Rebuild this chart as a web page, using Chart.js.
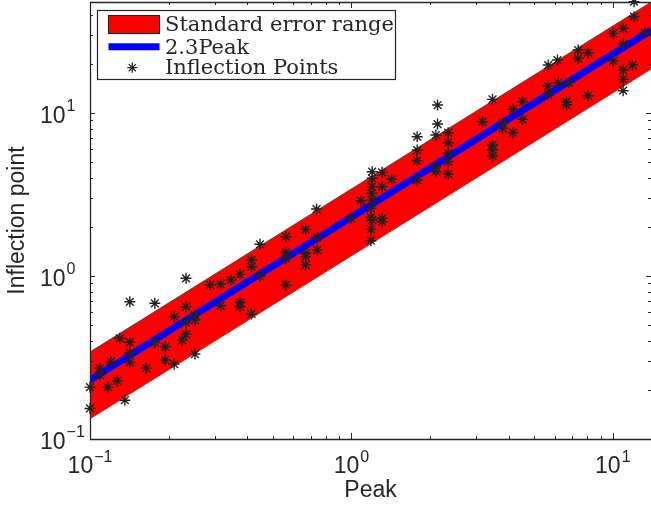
<!DOCTYPE html>
<html><head><meta charset="utf-8">
<script src="https://cdn.jsdelivr.net/npm/chart.js@4.4.1/dist/chart.umd.min.js"></script>
<style>html,body{margin:0;padding:0;background:#fff;overflow:hidden;}#wrap{width:651px;height:509px;}</style>
</head><body><div id="wrap"><canvas id="c" width="651" height="509"></canvas></div>
<script>
// ---- data ----
const peak = [0.142,0.177,0.233,0.210,0.252,0.252,0.233,0.233,0.225,0.130,0.142,0.177,0.194,0.142,0.142,0.120,0.194,0.210,0.252,0.164,0.109,0.109,0.127,0.117,0.100,0.136,0.100,
  0.233,0.447,0.562,0.415,0.415,0.562,0.562,0.447,0.375,0.346,0.316,0.288,0.562,0.316,0.375,0.375,0.415,
  1.201,1.311,1.201,1.424,1.195,1.311,1.195,1.087,1.201,1.187,0.736,0.995,1.187,1.201,1.311,1.311,1.187,1.187,0.668,0.740,0.740,0.668,0.668,0.668,
  2.136,2.136,1.785,2.104,2.345,1.785,1.785,2.345,2.345,2.345,2.104,2.104,2.345,1.785,3.467,3.176,3.786,3.786,4.156,4.515,4.515,4.156,3.467,3.467,3.467,
  12.06,12.06,10.03,10.95,13.26,10.95,10.03,11.89,10.95,10.95,10.95,7.37,7.37,8.04,6.14,5.66,5.66,5.66,6.18,6.81,6.65,6.65,8.04];
const inflection = [0.695,0.680,0.648,0.563,0.576,0.537,0.517,0.439,0.405,0.415,0.392,0.390,0.368,0.338,0.296,0.298,0.305,0.288,0.332,0.272,0.272,0.247,0.227,0.208,0.208,0.173,0.154,
  0.968,1.565,1.742,1.254,1.141,1.398,1.284,1.000,1.024,0.945,0.893,0.881,0.881,0.657,0.690,0.648,0.585,
  4.364,4.327,3.976,3.920,3.531,3.531,3.217,2.897,2.926,2.602,2.576,2.259,2.291,2.205,2.259,2.153,1.934,1.647,1.934,1.728,1.444,1.378,1.313,1.168,
  11.20,8.56,7.155,7.328,7.57,5.93,5.10,6.57,5.66,5.03,4.68,4.364,4.224,3.88,12.13,8.84,8.65,8.06,10.54,11.73,9.15,7.57,6.36,5.93,5.45,
  48.2,38.98,30.83,33.08,31.27,26.51,20.84,19.70,18.35,16.09,13.71,24.35,21.66,23.44,21.14,19.70,14.64,13.08,15.34,15.34,11.73,11.20,12.77];
const bandPeak = [0.1, 14.0];
const bandUpper = [0.342, 47.9];
const bandLower = [0.133, 18.6];
const fitPeak = [0.1, 14.0];
const fitValues = [0.23, 32.2];
const xTickValues = [0.1, 1, 10];
const yTickValues = [0.1, 1, 10];
const xTickExponents = [-1, 0, 1];
const yTickExponents = [-1, 0, 1];
const seriesNames = ['Standard error range', '2.3Peak', 'Inflection Points'];

const pts = (xs, ys) => xs.map((x, i) => ({x: x, y: ys[i]}));
const INK = '#262626';
const SANS = "'Liberation Sans', Arial, sans-serif";
const SERIF = "'DejaVu Serif', serif";

function minorTicks(min, max) {
  const out = [];
  for (let e = -2; e <= 3; e++) {
    for (let m = 1; m <= 9; m++) {
      const v = m * Math.pow(10, e);
      if (v >= min * 0.9999 && v <= max * 1.0001) out.push({v: v, major: m === 1});
    }
  }
  return out;
}

function drawPow(ctx, exp, x, baseline, align) {
  ctx.font = '23px ' + SANS;
  const wb = ctx.measureText('10').width;
  const sup = exp < 0 ? '\u2212' + (-exp) : String(exp);
  ctx.font = '16px ' + SANS;
  const ws = ctx.measureText(sup).width;
  const total = wb + 1 + ws;
  const x0 = align === 'center' ? x - total / 2 : x;
  ctx.textAlign = 'left';
  ctx.textBaseline = 'alphabetic';
  ctx.font = '23px ' + SANS;
  ctx.fillText('10', x0, baseline);
  ctx.font = '16px ' + SANS;
  ctx.fillText(sup, x0 + wb + 1, baseline - 11.5);
}

function star(ctx, cx, cy, r) {
  const d = r * Math.SQRT1_2;
  ctx.beginPath();
  ctx.moveTo(cx - r, cy); ctx.lineTo(cx + r, cy);
  ctx.moveTo(cx, cy - r); ctx.lineTo(cx, cy + r);
  ctx.moveTo(cx - d, cy - d); ctx.lineTo(cx + d, cy + d);
  ctx.moveTo(cx - d, cy + d); ctx.lineTo(cx + d, cy - d);
  ctx.stroke();
}

const framePlugin = {
  id: 'frame',
  afterDatasetsDraw(chart) {
    const {ctx, chartArea: a, scales: {x, y}} = chart;
    ctx.save();
    ctx.strokeStyle = INK;
    ctx.lineWidth = 1.3;
    ctx.beginPath();
    ctx.rect(Math.round(a.left) + 0.5, Math.round(a.top) + 0.5, Math.round(a.right - a.left) + 1, Math.round(a.bottom - a.top));
    ctx.stroke();
    ctx.lineWidth = 1;
    ctx.beginPath();
    minorTicks(x.min, x.max).forEach(t => {
      const px = Math.round(x.getPixelForValue(t.v)) + 0.5;
      const L = t.major ? 6 : 3;
      ctx.moveTo(px, a.bottom); ctx.lineTo(px, a.bottom - L);
      ctx.moveTo(px, a.top); ctx.lineTo(px, a.top + L);
    });
    minorTicks(y.min, y.max).forEach(t => {
      const py = Math.round(y.getPixelForValue(t.v)) + 0.5;
      const L = t.major ? 5 : 3;
      ctx.moveTo(a.left, py); ctx.lineTo(a.left + L, py);
      ctx.moveTo(a.right, py); ctx.lineTo(a.right - L, py);
    });
    ctx.stroke();
    ctx.fillStyle = INK;
    xTickValues.forEach((v, i) => drawPow(ctx, xTickExponents[i], x.getPixelForValue(v), a.bottom + 34.3, 'center'));
    yTickValues.forEach((v, i) => drawPow(ctx, yTickExponents[i], 40, y.getPixelForValue(v) + 9.5, 'left'));

    // legend box
    const L0 = a.left, T0 = a.top;
    ctx.fillStyle = '#ffffff';
    ctx.fillRect(L0 + 7.5, T0 + 8.5, 298, 69);
    ctx.strokeStyle = INK;
    ctx.lineWidth = 1.2;
    ctx.strokeRect(L0 + 7.5, T0 + 8.5, 298, 69);
    ctx.fillStyle = '#ff0000';
    ctx.fillRect(L0 + 18.5, T0 + 13.5, 51, 18);
    ctx.lineWidth = 1;
    ctx.strokeStyle = '#222';
    ctx.strokeRect(L0 + 18.5, T0 + 13.5, 51, 18);
    ctx.strokeStyle = '#0000ff';
    ctx.lineWidth = 7;
    ctx.beginPath(); ctx.moveTo(L0 + 18.5, T0 + 44.7); ctx.lineTo(L0 + 69.5, T0 + 44.7); ctx.stroke();
    ctx.strokeStyle = '#222';
    ctx.lineWidth = 1.3;
    star(ctx, L0 + 42.3, T0 + 65.7, 5);
    ctx.fillStyle = INK;
    ctx.font = '21px ' + SERIF;
    ctx.textAlign = 'left';
    ctx.textBaseline = 'alphabetic';
    ctx.fillText(seriesNames[0], L0 + 75, T0 + 28.7);
    ctx.fillText(seriesNames[1], L0 + 75, T0 + 52.3);
    ctx.fillText(seriesNames[2], L0 + 75, T0 + 72);
    ctx.restore();
  }
};

new Chart(document.getElementById('c'), {
  type: 'scatter',
  data: {
    datasets: [
      {label: seriesNames[2], data: pts(peak, inflection), pointStyle: 'star', radius: 5.5, borderColor: '#222222', borderWidth: 1.4, backgroundColor: '#222222', clip: false},
      {label: seriesNames[1], data: pts(fitPeak, fitValues), showLine: true, borderColor: '#0000ff', borderWidth: 7, pointRadius: 0, fill: false},
      {label: seriesNames[0], data: pts(bandPeak, bandUpper), showLine: true, borderColor: '#333333', borderWidth: 0.8, pointRadius: 0, backgroundColor: '#ff0000', fill: '+1'},
      {label: seriesNames[0] + ' (lower)', data: pts(bandPeak, bandLower), showLine: true, borderColor: '#333333', borderWidth: 0.8, pointRadius: 0, fill: false}
    ]
  },
  options: {
    responsive: false, animation: false, devicePixelRatio: 1,
    layout: {autoPadding: false, padding: {top: 2, right: 0, left: 0, bottom: 0}},
    plugins: {legend: {display: false}, tooltip: {enabled: false}},
    scales: {
      x: {type: 'logarithmic', min: 0.1, max: 14.0, grid: {display: false}, border: {display: false}, ticks: {display: false},
          title: {display: true, text: 'Peak', color: INK, font: {family: SANS, size: 23}, padding: {top: 0, bottom: 5}},
          afterFit: s => { s.height = 70; }},
      y: {type: 'logarithmic', min: 0.1, max: 48, grid: {display: false}, border: {display: false}, ticks: {display: false},
          title: {display: true, text: 'Inflection point', color: INK, font: {family: SANS, size: 23}, padding: {top: 4, bottom: 0}},
          afterFit: s => { s.width = 90; }}
    }
  },
  plugins: [framePlugin]
});
</script></body></html>
